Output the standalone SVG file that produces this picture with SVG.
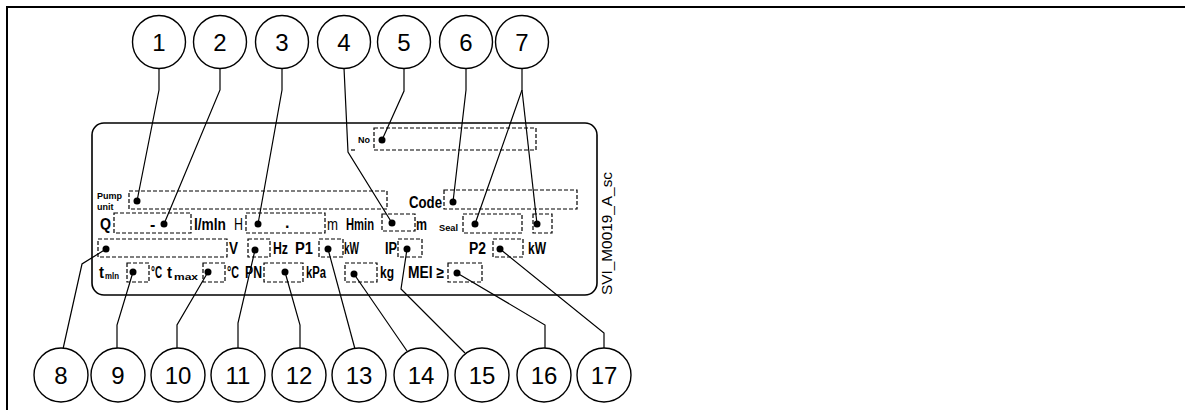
<svg xmlns="http://www.w3.org/2000/svg" width="1185" height="410" viewBox="0 0 1185 410">
<style>
.frame{fill:none;stroke:#000;stroke-width:2}
.plate{fill:none;stroke:#000;stroke-width:1.6}
.cir{fill:#fff;stroke:#000;stroke-width:1.4}
.num{font-family:"Liberation Sans",Arial,sans-serif;font-size:24px;text-anchor:middle;fill:#000}
.box{fill:none;stroke:#000;stroke-width:1.2;stroke-dasharray:4 2}
.ld{fill:none;stroke:#000;stroke-width:1.2}
.dot{fill:#000}
.lb{font-family:"Liberation Sans",Arial,sans-serif;font-weight:bold;font-size:16px;fill:#000}
.lr{font-family:"Liberation Sans",Arial,sans-serif;font-size:16px;fill:#000}
.sm{font-family:"Liberation Sans",Arial,sans-serif;font-weight:bold;font-size:9px;fill:#000}
.svi{font-family:"Liberation Sans",Arial,sans-serif;font-size:15px;fill:#000}
</style>
<rect class="frame" x="7" y="7" width="1200" height="420"/>
<g id="plate">
<rect class="plate" x="92" y="123" width="505" height="172" rx="12"/>
<text class="svi" transform="translate(612,295) rotate(-90)" textLength="123" lengthAdjust="spacingAndGlyphs">SVI_M0019_A_sc</text>
<text class="sm" x="358" y="143">No</text>
<line class="ld" x1="351" y1="150" x2="355" y2="150" stroke-width="1.5"/>
<rect class="box" x="374" y="128" width="162" height="22"/>
<text class="sm" x="97" y="199">Pump</text>
<text class="sm" x="97" y="210">unit</text>
<rect class="box" x="129" y="191" width="258" height="18"/>
<text class="lb" x="409" y="208" textLength="33" lengthAdjust="spacingAndGlyphs">Code</text>
<rect class="box" x="444" y="190" width="133" height="19"/>
<text class="lb" x="100" y="230" textLength="11" lengthAdjust="spacingAndGlyphs">Q</text>
<rect class="box" x="114" y="213" width="77" height="20"/>
<text class="lb" x="150" y="230">-</text>
<text class="lb" x="194" y="230" textLength="32" lengthAdjust="spacingAndGlyphs">l/mln</text>
<text class="lr" x="234" y="230" textLength="9" lengthAdjust="spacingAndGlyphs">H</text>
<rect class="box" x="246" y="213" width="79" height="20"/>
<text class="lb" x="285" y="228">.</text>
<text class="lr" x="327" y="230" textLength="11" lengthAdjust="spacingAndGlyphs">m</text>
<text class="lb" x="346" y="230" textLength="28" lengthAdjust="spacingAndGlyphs">Hmin</text>
<rect class="box" x="382" y="214" width="33" height="17"/>
<text class="lb" x="416" y="230" textLength="11" lengthAdjust="spacingAndGlyphs">m</text>
<text class="sm" x="439" y="231" textLength="19" lengthAdjust="spacingAndGlyphs">Seal</text>
<rect class="box" x="463" y="214" width="59" height="19"/>
<rect class="box" x="533" y="214" width="19" height="19"/>
<rect class="box" x="98" y="239" width="129" height="18"/>
<text class="lb" x="229" y="254" textLength="9" lengthAdjust="spacingAndGlyphs">V</text>
<rect class="box" x="248" y="239" width="22" height="18"/>
<text class="lb" x="273" y="254" textLength="15" lengthAdjust="spacingAndGlyphs">Hz</text>
<text class="lb" x="295" y="254" textLength="18" lengthAdjust="spacingAndGlyphs">P1</text>
<rect class="box" x="319" y="239" width="24" height="18"/>
<text class="lb" x="344" y="254" textLength="15" lengthAdjust="spacingAndGlyphs">kW</text>
<text class="lb" x="385" y="254" textLength="12" lengthAdjust="spacingAndGlyphs">IP</text>
<rect class="box" x="398" y="239" width="24" height="18"/>
<text class="lb" x="469" y="254" textLength="17" lengthAdjust="spacingAndGlyphs">P2</text>
<rect class="box" x="493" y="239" width="30" height="18"/>
<text class="lb" x="528" y="254" textLength="18" lengthAdjust="spacingAndGlyphs">kW</text>
<text class="lb" x="99" y="278" textLength="5" lengthAdjust="spacingAndGlyphs">t</text>
<text class="sm" x="105" y="279" textLength="14" lengthAdjust="spacingAndGlyphs">mln</text>
<rect class="box" x="127" y="263" width="22" height="19"/>
<text class="lb" x="151" y="278" textLength="11" lengthAdjust="spacingAndGlyphs">°C</text>
<text class="lb" x="167" y="278" textLength="5" lengthAdjust="spacingAndGlyphs">t</text>
<text class="sm" x="174" y="280" textLength="24" lengthAdjust="spacingAndGlyphs">max</text>
<rect class="box" x="203" y="263" width="22" height="19"/>
<text class="lb" x="227" y="278" textLength="12" lengthAdjust="spacingAndGlyphs">°C</text>
<text class="lb" x="245" y="278" textLength="17" lengthAdjust="spacingAndGlyphs">PN</text>
<rect class="box" x="264" y="263" width="39" height="19"/>
<text class="lb" x="306" y="278" textLength="20" lengthAdjust="spacingAndGlyphs">kPa</text>
<rect class="box" x="345" y="263" width="32" height="19"/>
<text class="lb" x="380" y="278" textLength="14" lengthAdjust="spacingAndGlyphs">kg</text>
<text class="lb" x="408" y="278" textLength="36" lengthAdjust="spacingAndGlyphs">MEI ≥</text>
<rect class="box" x="448" y="263" width="34" height="19"/>
</g>
<g id="connectors">
<polyline class="ld" points="159,68 159,90 137,201"/>
<polyline class="ld" points="220,68 220,90 164,224"/>
<polyline class="ld" points="282,68 282,90 258,224"/>
<polyline class="ld" points="344,68 348,152 392,223"/>
<polyline class="ld" points="404,68 404,91 382,140"/>
<polyline class="ld" points="466,68 466,90 453,202"/>
<polyline class="ld" points="522,68 522,90 475,224"/>
<polyline class="ld" points="522,90 537,224"/>
<polyline class="ld" points="63,349 82,264 106,249"/>
<polyline class="ld" points="117,348 117,325 133,272"/>
<polyline class="ld" points="177,348 177,325 208,272"/>
<polyline class="ld" points="238,348 238,323 255,250"/>
<polyline class="ld" points="300,348 300,325 285,272"/>
<polyline class="ld" points="355,349 328,249"/>
<polyline class="ld" points="407,351 354,274"/>
<polyline class="ld" points="465,353 401,289 407,249"/>
<polyline class="ld" points="545,348 545,325 457,273"/>
<polyline class="ld" points="604,348 604,333 500,249"/>
</g>
<g id="dots">
<circle class="dot" cx="382" cy="140" r="3.5"/>
<circle class="dot" cx="137" cy="201" r="3.5"/>
<circle class="dot" cx="453" cy="202" r="3.5"/>
<circle class="dot" cx="164" cy="224" r="3.5"/>
<circle class="dot" cx="258" cy="224" r="3.5"/>
<circle class="dot" cx="392" cy="223" r="3.5"/>
<circle class="dot" cx="475" cy="224" r="3.5"/>
<circle class="dot" cx="537" cy="224" r="3.5"/>
<circle class="dot" cx="106" cy="249" r="3.5"/>
<circle class="dot" cx="255" cy="250" r="3.5"/>
<circle class="dot" cx="328" cy="249" r="3.5"/>
<circle class="dot" cx="407" cy="249" r="3.5"/>
<circle class="dot" cx="500" cy="249" r="3.5"/>
<circle class="dot" cx="133" cy="272" r="3.5"/>
<circle class="dot" cx="208" cy="272" r="3.5"/>
<circle class="dot" cx="285" cy="272" r="3.5"/>
<circle class="dot" cx="354" cy="274" r="3.5"/>
<circle class="dot" cx="457" cy="273" r="3.5"/>
</g>
<g id="n1"><circle class="cir" cx="159" cy="42" r="26.5"/><text class="num" x="159" y="50.5">1</text></g>
<g id="n2"><circle class="cir" cx="220" cy="42" r="26.5"/><text class="num" x="220" y="50.5">2</text></g>
<g id="n3"><circle class="cir" cx="282" cy="42" r="26.5"/><text class="num" x="282" y="50.5">3</text></g>
<g id="n4"><circle class="cir" cx="344" cy="42" r="26.5"/><text class="num" x="344" y="50.5">4</text></g>
<g id="n5"><circle class="cir" cx="404" cy="42" r="26.5"/><text class="num" x="404" y="50.5">5</text></g>
<g id="n6"><circle class="cir" cx="466" cy="42" r="26.5"/><text class="num" x="466" y="50.5">6</text></g>
<g id="n7"><circle class="cir" cx="522" cy="42" r="26.5"/><text class="num" x="522" y="50.5">7</text></g>
<g id="n8"><circle class="cir" cx="61" cy="375" r="27"/><text class="num" x="61" y="383.5">8</text></g>
<g id="n9"><circle class="cir" cx="118" cy="375" r="27"/><text class="num" x="118" y="383.5">9</text></g>
<g id="n10"><circle class="cir" cx="178" cy="375" r="27"/><text class="num" x="178" y="383.5">10</text></g>
<g id="n11"><circle class="cir" cx="238" cy="375" r="27"/><text class="num" x="238" y="383.5">11</text></g>
<g id="n12"><circle class="cir" cx="299" cy="375" r="27"/><text class="num" x="299" y="383.5">12</text></g>
<g id="n13"><circle class="cir" cx="359" cy="375" r="27"/><text class="num" x="359" y="383.5">13</text></g>
<g id="n14"><circle class="cir" cx="421" cy="375" r="27"/><text class="num" x="421" y="383.5">14</text></g>
<g id="n15"><circle class="cir" cx="482" cy="375" r="27"/><text class="num" x="482" y="383.5">15</text></g>
<g id="n16"><circle class="cir" cx="544" cy="375" r="27"/><text class="num" x="544" y="383.5">16</text></g>
<g id="n17"><circle class="cir" cx="604" cy="375" r="27"/><text class="num" x="604" y="383.5">17</text></g>
</svg>
